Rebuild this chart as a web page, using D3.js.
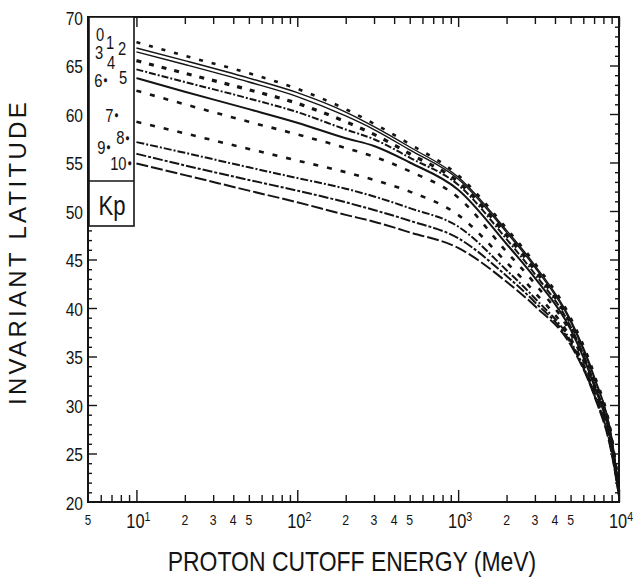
<!DOCTYPE html>
<html>
<head>
<meta charset="utf-8">
<script src="https://cdn.jsdelivr.net/npm/d3@7/dist/d3.min.js"></script>
<style>
  html, body { margin: 0; padding: 0; background: #fff; }
  svg { display: block; }
  text { font-family: "Liberation Sans", Arial, Helvetica, sans-serif; }
</style>
</head>
<body>
<svg id="chart" width="633" height="586"></svg>
<script>
// ---------------- DATA ----------------
const energy = [10, 20, 50, 100, 200, 300, 500, 1000, 2000, 3000, 5000, 7000, 9000, 10000];
const kp0  = [67.4, 66.0, 64.2, 62.6, 60.5, 59.0, 56.9, 53.7, 48.2, 44.6, 39.0, 33.2, 26.8, 21.5];
const kp1  = [66.8, 65.5, 63.7, 62.2, 60.2, 58.7, 56.6, 53.5, 48.0, 44.4, 38.8, 33.0, 26.7, 21.4];
const kp2  = [66.4, 65.1, 63.3, 61.8, 59.8, 58.4, 56.3, 53.3, 47.8, 44.2, 38.6, 32.8, 26.6, 21.3];
const kp3  = [65.5, 64.2, 62.5, 61.1, 59.2, 57.9, 55.9, 53.0, 47.5, 43.9, 38.4, 32.6, 26.4, 21.2];
const kp4  = [64.6, 63.3, 61.6, 60.2, 58.4, 57.4, 55.5, 52.7, 47.1, 43.5, 38.1, 32.3, 26.2, 21.1];
const kp5  = [63.7, 62.3, 60.5, 59.1, 57.5, 56.7, 55.0, 52.2, 46.6, 43.1, 37.8, 32.0, 26.0, 21.0];
const kp6  = [62.4, 61.0, 59.2, 57.9, 56.5, 55.6, 54.1, 51.4, 45.8, 42.5, 37.4, 31.7, 25.8, 21.0];
const kp7  = [59.2, 58.0, 56.4, 55.2, 54.0, 53.2, 52.0, 49.6, 44.7, 41.6, 36.9, 31.4, 25.5, 20.9];
const kp8  = [57.1, 56.0, 54.5, 53.4, 52.3, 51.5, 50.3, 48.4, 43.9, 41.0, 36.6, 31.2, 25.3, 20.8];
const kp9  = [55.9, 54.7, 53.2, 52.1, 50.9, 50.1, 49.0, 47.2, 43.3, 40.6, 36.4, 31.1, 25.2, 20.7];
const kp10 = [54.9, 53.7, 52.1, 50.9, 49.6, 48.9, 47.8, 46.2, 42.7, 40.2, 36.2, 31.0, 25.0, 20.6];

const kpLabels   = ["0", "1", "2", "3", "4", "5", "6", "7", "8", "9", "10"];
const kpLabelDot = [false, false, false, false, false, false, true, true, true, true, true];
const kpLabelLat = [68.25, 67.4, 66.8, 66.3, 65.3, 63.8, 63.5, 59.9, 57.6, 56.6, 54.95];

const yTicks = [20, 25, 30, 35, 40, 45, 50, 55, 60, 65, 70];
const xDecades = [10, 100, 1000, 10000];
const xDecadeExp = ["1", "2", "3", "4"];
const xMinorLabelMult = [2, 3, 4, 5];

// ---------------- LAYOUT ----------------
const L = 88, R = 619, T = 17, B = 502;
const NARROW = 0.82;
const svg = d3.select("#chart");
const x = d3.scaleLog().domain([5, 10000]).range([L, R]);
const y = d3.scaleLinear().domain([20, 70]).range([B, T]);
const ink = "#141414";

function ntext(parent, px, py, size, anchor, baseline) {
  const g = parent.append("g").attr("transform", `translate(${px},${py}) scale(${NARROW},1)`);
  return g.append("text").attr("x", 0).attr("y", 0).attr("font-size", size)
    .attr("text-anchor", anchor || "middle").attr("dominant-baseline", baseline || "auto").attr("fill", ink);
}

// series table built from arrays
const seriesValues = [kp0, kp1, kp2, kp3, kp4, kp5, kp6, kp7, kp8, kp9, kp10];
const styles = [
  {w: 2.6, dash: "4,9"},
  {w: 1.4, dash: null},
  {w: 1.4, dash: null},
  {w: 3.2, dash: "5,8"},
  {w: 2.0, dash: "7,2,2,2"},
  {w: 2.0, dash: null},
  {w: 2.6, dash: "5,9"},
  {w: 2.6, dash: "5,9"},
  {w: 2.0, dash: "8,2,2,2"},
  {w: 2.0, dash: "10,2,3,2"},
  {w: 2.0, dash: "12,3"}
];

// ---------------- TICKS ----------------
const minorX = [];
[1, 10, 100, 1000].forEach(d => { for (let k = 2; k <= 9; k++) { const v = k * d; if (v > 5 && v < 10000) minorX.push(v); } });
const minorY = d3.range(21, 70).filter(v => v % 5 !== 0);
const majorY = d3.range(25, 70, 5);

function clean(g) { g.select(".domain").remove(); g.selectAll(".tick line").attr("stroke", ink).attr("stroke-width", 1.4); g.selectAll("text").remove(); }

svg.append("g").attr("transform", `translate(0,${B})`).call(d3.axisBottom(x).tickValues(minorX).tickSize(-7)).call(clean);
svg.append("g").attr("transform", `translate(0,${B})`).call(d3.axisBottom(x).tickValues(xDecades).tickSize(-12)).call(clean);
svg.append("g").attr("transform", `translate(0,${T})`).call(d3.axisTop(x).tickValues(minorX).tickSize(-7)).call(clean);
svg.append("g").attr("transform", `translate(0,${T})`).call(d3.axisTop(x).tickValues(xDecades).tickSize(-10)).call(clean);
svg.append("g").attr("transform", `translate(${L},0)`).call(d3.axisLeft(y).tickValues(minorY).tickSize(-4)).call(clean);
svg.append("g").attr("transform", `translate(${L},0)`).call(d3.axisLeft(y).tickValues(majorY).tickSize(-9)).call(clean);
svg.append("g").attr("transform", `translate(${R},0)`).call(d3.axisRight(y).tickValues(minorY).tickSize(-4)).call(clean);
svg.append("g").attr("transform", `translate(${R},0)`).call(d3.axisRight(y).tickValues(majorY).tickSize(-9)).call(clean);

// frame
svg.append("rect").attr("x", L).attr("y", T).attr("width", R - L).attr("height", B - T)
  .attr("fill", "none").attr("stroke", ink).attr("stroke-width", 2);

// ---------------- CURVES ----------------
const line = d3.line().x(d => x(d[0])).y(d => y(d[1])).curve(d3.curveMonotoneX);
seriesValues.forEach((vals, i) => {
  const pts = energy.map((e, j) => [e, vals[j]]);
  svg.append("path").attr("d", line(pts)).attr("fill", "none").attr("stroke", ink)
    .attr("stroke-width", styles[i].w).attr("stroke-dasharray", styles[i].dash)
    .attr("stroke-linejoin", "round");
});

// ---------------- LEGEND BOX ----------------
const boxR = 134, boxB = 226, boxDiv = 181;
svg.append("rect").attr("x", L + 1).attr("y", T).attr("width", boxR - L - 1).attr("height", boxB - T)
  .attr("fill", "#fff").attr("stroke", ink).attr("stroke-width", 1.6);
svg.append("line").attr("x1", L + 1).attr("x2", boxR).attr("y1", boxDiv).attr("y2", boxDiv)
  .attr("stroke", ink).attr("stroke-width", 1.6);
const labelX = [100, 110, 122, 99, 111, 123, 101, 112, 123, 104, 121];
kpLabels.forEach((lab, i) => {
  const t = ntext(svg, labelX[i], y(kpLabelLat[i]), 18, "middle", "central");
  t.append("tspan").text(lab);
  if (kpLabelDot[i]) t.append("tspan").attr("font-size", 9).attr("dx", 1).text("\u25CF");
});
ntext(svg, (L + boxR) / 2 + 1, (boxDiv + boxB) / 2 + 2, 27, "middle", "central").text("Kp");

// ---------------- TICK LABELS ----------------
yTicks.forEach(v => { ntext(svg, 83, y(v) + 1, 19, "end", "central").text(v); });

ntext(svg, x(5), 525, 14, "middle").text("5");
xDecades.forEach((d, i) => {
  const t = ntext(svg, x(d) + 2, 528, 20, "middle");
  t.append("tspan").text("10");
  t.append("tspan").attr("dy", -7).attr("font-size", 13).text(xDecadeExp[i]);
});
[10, 100, 1000].forEach(d => {
  xMinorLabelMult.forEach(m => { ntext(svg, x(m * d), 525, 15, "middle").text(m); });
});

// ---------------- AXIS TITLES ----------------
ntext(svg, 352, 571, 28, "middle").text("PROTON CUTOFF ENERGY (MeV)");
svg.append("text").attr("transform", "translate(26,252) rotate(-90)").attr("text-anchor", "middle")
  .attr("font-size", 24).attr("letter-spacing", 3.3)
  .attr("fill", ink).text("INVARIANT LATITUDE");
</script>
</body>
</html>
